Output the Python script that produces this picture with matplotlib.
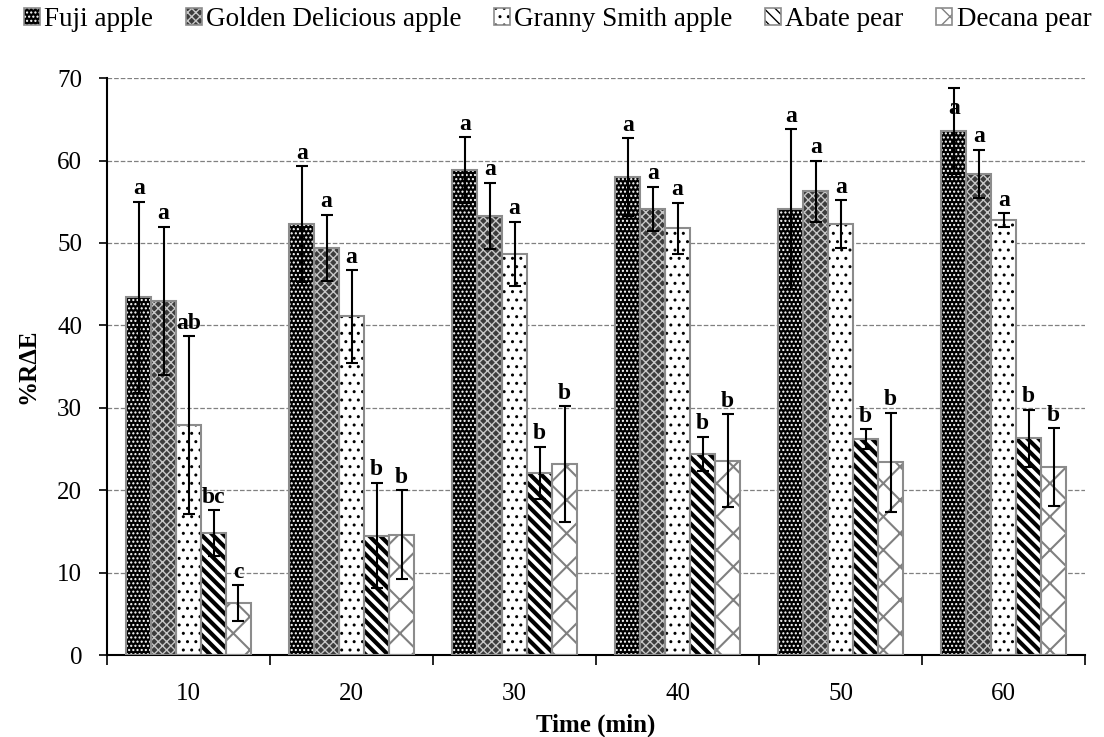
import numpy as np
import matplotlib
matplotlib.use("Agg")
import matplotlib.pyplot as plt
from matplotlib.patches import Rectangle

plt.rcParams['font.family'] = ['Liberation Serif', 'DejaVu Serif']

times = ['10', '20', '30', '40', '50', '60']
series = ['Fuji apple', 'Golden Delicious apple', 'Granny Smith apple', 'Abate pear', 'Decana pear']

fuji = [43.4, 52.3, 58.8, 58.0, 54.1, 63.6]
golden = [43.0, 49.4, 53.3, 54.1, 56.3, 58.4]
granny = [27.9, 41.1, 48.7, 51.8, 52.3, 52.8]
abate = [14.8, 14.5, 22.1, 24.4, 26.2, 26.3]
decana = [6.3, 14.6, 23.2, 23.6, 23.4, 22.8]

fuji_err = [11.6, 7.0, 4.0, 4.7, 9.7, 5.2]
golden_err = [9.0, 4.0, 4.0, 2.7, 3.7, 2.9]
granny_err = [10.8, 5.6, 3.9, 3.1, 2.9, 0.8]
abate_err = [2.8, 6.4, 3.2, 2.1, 1.2, 3.5]
decana_err = [2.2, 5.4, 7.0, 5.6, 6.0, 4.7]

fuji_lab = ['a', 'a', 'a', 'a', 'a', 'a']
golden_lab = ['a', 'a', 'a', 'a', 'a', 'a']
granny_lab = ['ab', 'a', 'a', 'a', 'a', 'a']
abate_lab = ['bc', 'b', 'b', 'b', 'b', 'b']
decana_lab = ['c', 'b', 'b', 'b', 'b', 'b']

values = [fuji, golden, granny, abate, decana]
errors = [fuji_err, golden_err, granny_err, abate_err, decana_err]
letters = [fuji_lab, golden_lab, granny_lab, abate_lab, decana_lab]

# face, hatch, hatch colour, hatch linewidth
styles = [
    ('black', '....', 'white', 1.0),
    ('#3c3c3c', 'xxxx', '#c8c8c8', 1.0),
    ('white', '..', 'black', 1.0),
    ('white', '\\\\\\', 'black', 3.0),
    ('white', 'x', '#808080', 1.5),
]

fig = plt.figure(figsize=(11.04, 7.37), dpi=100)
ax = fig.add_axes([0.097, 0.111, 0.886, 0.783])

x = np.arange(len(times))
w = 0.153
handles = []
for i, (vals, errs, labs) in enumerate(zip(values, errors, letters)):
    face, hatch, hcol, hlw = styles[i]
    pos = x + (i - 2) * w
    with plt.rc_context({'hatch.linewidth': hlw}):
        ax.bar(pos, vals, w, color=face, hatch=hatch, edgecolor=hcol, linewidth=0, zorder=2)
        h_fill = Rectangle((0, 0), 1, 1, facecolor=face, hatch=hatch, edgecolor=hcol, linewidth=0)
    ax.bar(pos, vals, w, fill=False, edgecolor='#8c8c8c', linewidth=1.5, zorder=3)
    ax.errorbar(pos, vals, yerr=errs, fmt='none', ecolor='black', elinewidth=1.5,
                capsize=4.5, capthick=1.5, zorder=4)
    for p, v, e, t in zip(pos, vals, errs, labs):
        ax.text(p, min(v + e + 0.3, 65.0), t, ha='center', va='bottom',
                fontsize=17, fontweight='bold', zorder=5)
    h_edge = Rectangle((0, 0), 1, 1, fill=False, edgecolor='#8c8c8c', linewidth=1.2)
    handles.append((h_fill, h_edge))

ax.set_xlim(-0.5, len(times) - 0.5)
ax.set_ylim(0, 70)
ax.set_yticks(range(0, 71, 10))
ax.set_xticks(x)
ax.set_xticklabels(times)
ax.set_xticks(np.arange(-0.5, len(times), 1), minor=True)
ax.tick_params(axis='x', which='major', length=0, labelsize=18, pad=20)
ax.tick_params(axis='x', which='minor', length=7, width=1.2, direction='out')
ax.tick_params(axis='y', labelsize=18, length=6, width=1.2, direction='out', pad=12)
ax.yaxis.grid(True, linestyle='--', color='#808080', linewidth=0.9, zorder=0)
ax.set_axisbelow(True)
for s in ['top', 'right']:
    ax.spines[s].set_visible(False)
ax.spines['left'].set_linewidth(1.5)
ax.spines['bottom'].set_linewidth(1.5)

ax.set_xlabel('Time (min)', fontsize=18, fontweight='bold', labelpad=6)
ax.set_ylabel('%R\u0394E', fontsize=18, fontweight='bold', labelpad=13)

fig.legend(handles, series, loc='upper center', bbox_to_anchor=(0.505, 1.012), ncol=5,
           frameon=False, fontsize=19.5, handlelength=0.6, handleheight=0.6,
           handletextpad=0.15, columnspacing=1.2, borderaxespad=0.2)

fig.savefig('out.png', dpi=100)
